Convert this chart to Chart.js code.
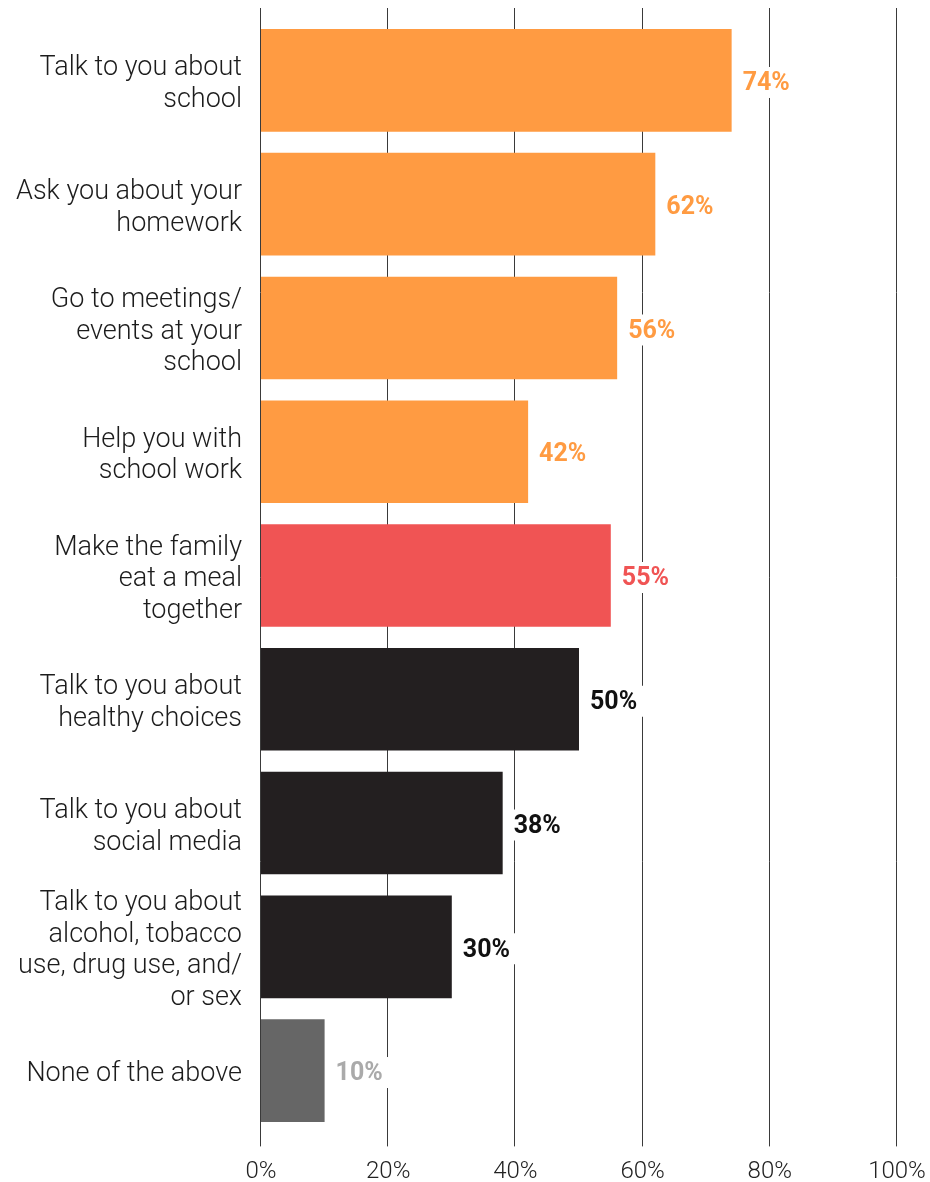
<!DOCTYPE html>
<html>
<head>
<meta charset="utf-8">
<script src="https://cdn.jsdelivr.net/npm/chart.js@4"></script>
<style>
  html, body { margin: 0; padding: 0; background: #ffffff; }
  #wrap { width: 930px; height: 1182px; position: relative; }
</style>
</head>
<body>
<div id="wrap"><canvas id="chart"></canvas></div>
<script>
// Survey answers: what parents do with their children
const categories = [
  ["Talk to you about", "school"],
  ["Ask you about your", "homework"],
  ["Go to meetings/", "events at your", "school"],
  ["Help you with", "school work"],
  ["Make the family", "eat a meal", "together"],
  ["Talk to you about", "healthy choices"],
  ["Talk to you about", "social media"],
  ["Talk to you about", "alcohol, tobacco", "use, drug use, and/", "or sex"],
  ["None of the above"]
];
const percentValues = [74, 62, 56, 42, 55, 50, 38, 30, 10];
const barColors = ["#FF9B42", "#FF9B42", "#FF9B42", "#FF9B42", "#F05454", "#231F20", "#231F20", "#231F20", "#666666"];
const valueLabelColors = ["#FF9B42", "#FF9B42", "#FF9B42", "#FF9B42", "#F05454", "#111111", "#111111", "#111111", "#AAAAAA"];
const xTickValues = [0, 20, 40, 60, 80, 100];

const FONT = "Roboto, 'Open Sans', sans-serif";

// Vertical guide lines at each x tick, running a little past the plot area
const guideLines = {
  id: "guideLines",
  beforeDatasetsDraw(chart) {
    const ctx = chart.ctx;
    const xs = chart.scales.x;
    ctx.save();
    ctx.strokeStyle = "#3a3a3a";
    ctx.lineWidth = 1;
    xTickValues.forEach(v => {
      const x = Math.round(xs.getPixelForValue(v)) - 0.5;
      ctx.beginPath();
      ctx.moveTo(x, 8);
      ctx.lineTo(x, chart.chartArea.bottom + 14);
      ctx.stroke();
    });
    ctx.restore();
  }
};

// Percentage labels to the right of each bar, on a white plate
const valueLabels = {
  id: "valueLabels",
  afterDatasetsDraw(chart) {
    const ctx = chart.ctx;
    const meta = chart.getDatasetMeta(0);
    ctx.save();
    ctx.font = "bold 25px " + FONT;
    ctx.textBaseline = "middle";
    ctx.textAlign = "left";
    meta.data.forEach((bar, i) => {
      const text = percentValues[i] + "%";
      const w = ctx.measureText(text).width;
      const tx = bar.x + 11;
      const ty = bar.y + 3.5;
      ctx.fillStyle = "#ffffff";
      ctx.fillRect(tx - 6, ty - 17, w + 12, 31);
      ctx.fillStyle = valueLabelColors[i];
      ctx.fillText(text, tx, ty);
    });
    ctx.restore();
  }
};

new Chart(document.getElementById("chart"), {
  type: "bar",
  data: {
    labels: categories,
    datasets: [{
      data: percentValues,
      backgroundColor: barColors,
      borderWidth: 0,
      categoryPercentage: 0.83,
      barPercentage: 1.0
    }]
  },
  options: {
    indexAxis: "y",
    responsive: true,
    maintainAspectRatio: false,
    animation: false,
    layout: { padding: { top: 18.6, right: 33, bottom: 0, left: 0 } },
    plugins: {
      legend: { display: false },
      tooltip: { enabled: false }
    },
    scales: {
      x: {
        type: "linear",
        min: 0,
        max: 100,
        afterBuildTicks(scale) {
          scale.ticks = xTickValues.map(v => ({ value: v }));
        },
        afterFit(scale) {
          scale.height = 49.6;
          scale.paddingLeft = 0;
          scale.paddingRight = 0;
        },
        border: { display: false },
        grid: { display: false, drawTicks: false },
        ticks: {
          autoSkip: false,
          maxRotation: 0,
          padding: 25,
          color: "#222222",
          font: { family: FONT, size: 24, weight: 300 },
          callback: v => v + "%"
        }
      },
      y: {
        type: "category",
        afterFit(scale) {
          scale.width = 261;
          scale.paddingTop = 0;
          scale.paddingBottom = 0;
        },
        border: { display: false },
        grid: { display: false, drawTicks: false },
        ticks: {
          autoSkip: false,
          padding: 19,
          labelOffset: 4,
          color: "#1c1c1c",
          font: { family: FONT, size: 27, weight: 300, lineHeight: "31.5px" }
        }
      }
    }
  },
  plugins: [guideLines, valueLabels]
});
</script>
</body>
</html>
